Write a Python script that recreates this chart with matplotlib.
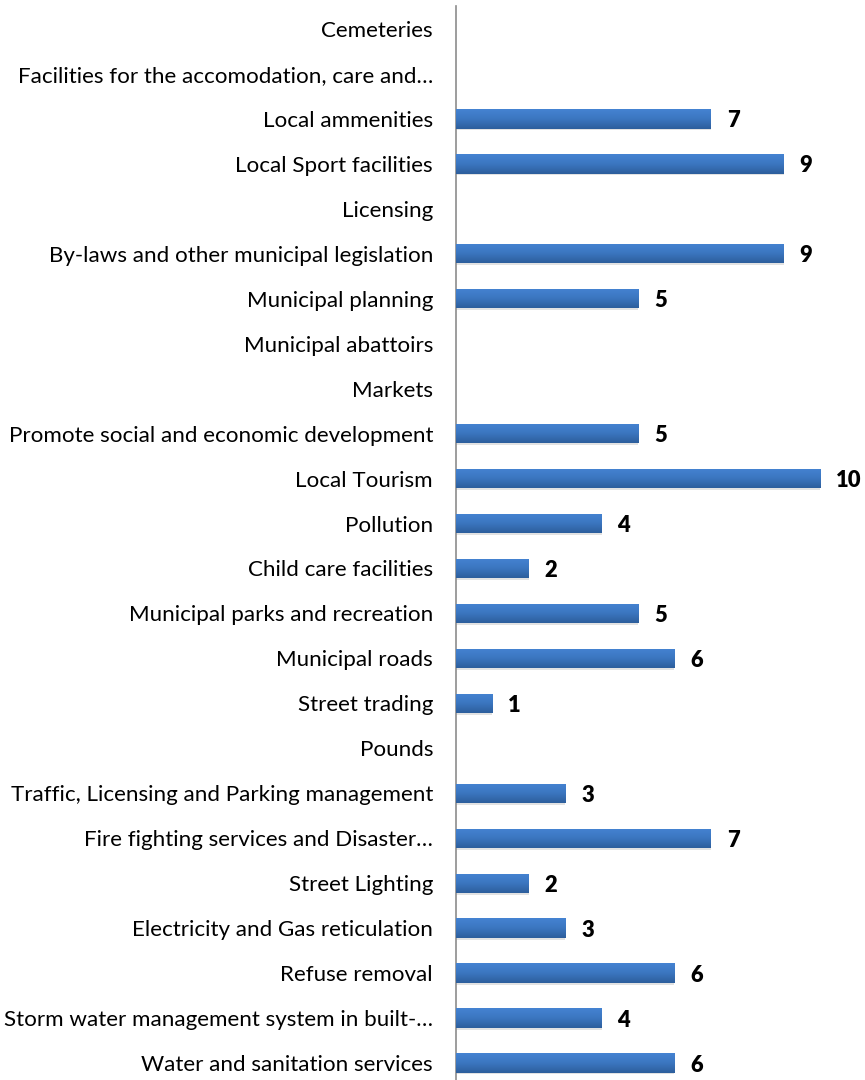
import matplotlib
matplotlib.use("Agg")
import matplotlib.pyplot as plt
import numpy as np
from matplotlib.colors import LinearSegmentedColormap

categories = [
    "Cemeteries",
    "Facilities for the accomodation, care and\u2026",
    "Local ammenities",
    "Local Sport facilities",
    "Licensing",
    "By-laws and other municipal legislation",
    "Municipal planning",
    "Municipal abattoirs",
    "Markets",
    "Promote social and economic development",
    "Local Tourism",
    "Pollution",
    "Child care facilities",
    "Municipal parks and recreation",
    "Municipal roads",
    "Street trading",
    "Pounds",
    "Traffic, Licensing and Parking management",
    "Fire fighting services and Disaster\u2026",
    "Street Lighting",
    "Electricity and Gas reticulation",
    "Refuse removal",
    "Storm water management system in built-\u2026",
    "Water and sanitation services",
]
values = [None, None, 7, 9, None, 9, 5, None, None, 5, 10, 4, 2, 5, 6, 1, None, 3, 7, 2, 3, 6, 4, 6]

plt.rcParams['font.family'] = ['Lato', 'DejaVu Sans']

W, H = 865, 1080
fig = plt.figure(figsize=(W/100, H/100), dpi=100)
left = 456 / W
top_px = 6.5
ax = fig.add_axes([left, 0, 1 - left, 1 - top_px / H])

n = len(categories)
ypos = np.arange(n)[::-1]  # first category at top
vals = np.array([v if v is not None else 0 for v in values], dtype=float)

bar_h = 0.43
cmap = LinearSegmentedColormap.from_list("g", ["#2d5e9c", "#3b76c0", "#4583d2"])
grad = np.linspace(0, 1, 64).reshape(-1, 1)

bars = ax.barh(ypos, vals, height=bar_h, color="#3a75bf", edgecolor="none", zorder=2)
for b, v in zip(bars, values):
    if v is None:
        continue
    x0, y0 = b.get_x(), b.get_y()
    w, h = b.get_width(), b.get_height()
    # soft shadow below
    ax.barh(y0 + h/2 - 0.04, w, height=h, left=0.0, color="#e2e2e2", edgecolor="none", zorder=1)
    im = ax.imshow(grad, extent=[x0, x0 + w, y0, y0 + h], origin="lower", cmap=cmap,
                   aspect="auto", zorder=3, interpolation="bicubic")
    im.set_clip_path(b)
    ax.annotate(str(v), xy=(v, b.get_y() + h/2), xytext=(11.5, -1.5), textcoords="offset points",
                ha="left", va="center", fontsize=15.8, fontweight="heavy", color="black")

ax.set_xlim(0, (W - 456) / 36.4)
ax.set_ylim(-0.378, n - 0.5)
ax.set_yticks(ypos)
ax.set_yticklabels(categories, fontsize=16.1, color="black")
ax.tick_params(axis="y", length=0, pad=16.5)
ax.set_xticks([])
for s in ["top", "right", "bottom"]:
    ax.spines[s].set_visible(False)
ax.spines["left"].set_color("#8c8c8c")
ax.spines["left"].set_linewidth(1.2)

fig.savefig("out.png", dpi=100)
